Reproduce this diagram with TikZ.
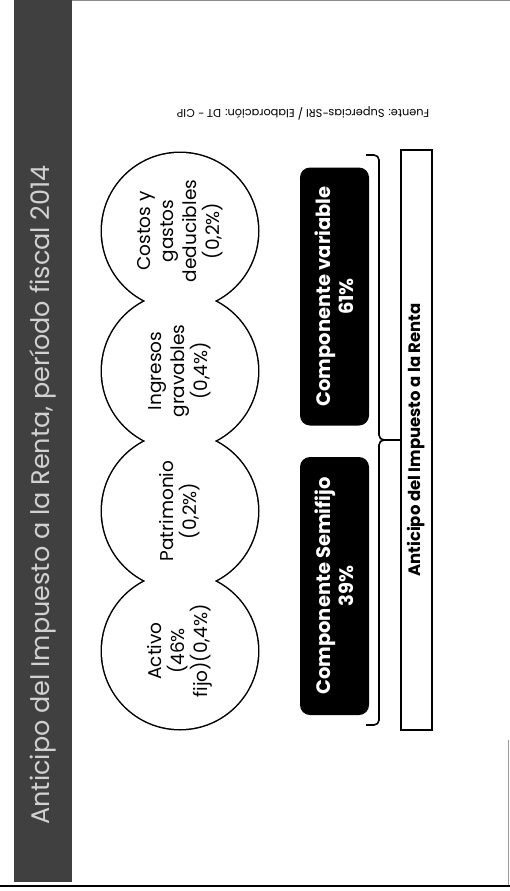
\documentclass[tikz,border=0pt]{standalone}
\usepackage{fontspec}
\setmainfont{Poppins}
\usepackage{tikz}
\usetikzlibrary{positioning,calc,backgrounds}
\tikzset{factor/.style={circle,minimum size=156pt,inner sep=0pt,align=center,rotate=90,
			font=\fontsize{18.5}{23}\selectfont},
		compBox/.style={rectangle,rounded corners=10pt,fill=black,text=white,rotate=90,
			minimum width=258pt,minimum height=69pt,align=center,
			font=\fontsize{19.5}{23}\selectfont\bfseries},
		totalBox/.style={rectangle,draw,line width=2pt,fill=white,rotate=90,
			minimum width=580pt,minimum height=31pt,inner sep=0pt,
			font=\fontsize{16.5}{18}\selectfont\bfseries},
		ring/.style={line width=3pt},
		braceLine/.style={line width=1.6pt,rounded corners=5pt},
		titleBand/.style={fill=black!75},
		titleText/.style={rotate=90,text=white!82!black,font=\fontsize{25.5}{28}\selectfont},
		sourceText/.style={rotate=180,font=\fontsize{11.3}{13}\selectfont},
		every node/.style={align=center}}
\begin{document}
\begin{tikzpicture}[x=1pt,y=-1pt]
\useasboundingbox (0,0) rectangle (510,891);
\fill[titleBand] (14,0) rectangle (72,882);
\draw[black!45,line width=0.8pt] (72,0.5) -- (510,0.5);
\draw[black!40,line width=0.6pt] (508,740) -- (508,886);
\draw[line width=2.5pt] (0,886) -- (510,886);
\node[titleText] (title) at (43,495) {Anticipo del Impuesto a la Renta, período fiscal 2014};
\node[sourceText] (fuente) at (303,113) {Fuente: Supercias-SRI / Elaboración: DT - CIP};

\node[factor] (costos) at (180,231) {Costos y\\gastos\\deducibles\\(0,2\%)};
\node[factor] (ingresos) at (180,371) {Ingresos\\gravables\\(0,4\%)};
\node[factor] (patrimonio) at (180,511) {Patrimonio\\(0,2\%)};
\node[factor] (activo) at (180,651) {Activo\\(46\%\\fijo)(0,4\%)};
\begin{scope}[on background layer]
	\foreach \n in {costos,ingresos,patrimonio,activo}
		\draw[ring] (\n.center) circle (78pt);
	\foreach \n in {costos,ingresos,patrimonio,activo}
		\fill[white] (\n.center) circle (78pt);
\end{scope}

\node[compBox] (semifijo) at (334.5,586) {Componente Semifijo\\39\%};
\node[compBox] (variable) at (334.5,296.5) {Componente variable\\61\%};
\node[totalBox] (total) at (416.5,440) {Anticipo del Impuesto a la Renta};

\coordinate (bTop) at (366,155);
\coordinate (bBot) at (366,725);
\draw[braceLine] (bTop) -- ++(13,0) |- (total.north);
\draw[braceLine] (bBot) -- ++(13,0) |- (total.north);
\end{tikzpicture}
\end{document}
